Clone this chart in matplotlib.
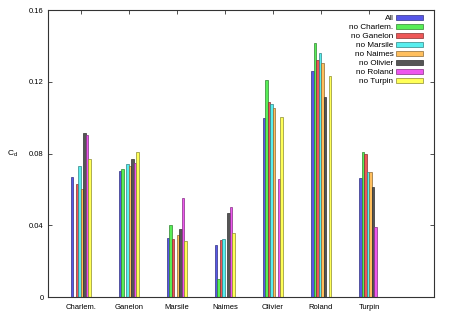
import matplotlib
matplotlib.use("Agg")
import matplotlib.pyplot as plt
import numpy as np
from matplotlib.colors import to_rgb

plt.rcParams["font.family"] = ["Liberation Sans", "DejaVu Sans"]

CHARACTERS = ["Charlem.", "Ganelon", "Marsile", "Naimes", "Olivier", "Roland", "Turpin"]
SERIES = ["All", "no Charlem.", "no Ganelon", "no Marsile", "no Naimes",
          "no Olivier", "no Roland", "no Turpin"]
NAN = float("nan")

# one list per series, values per character (nan = character removed)
all_chars = [0.0667, 0.0702, 0.0327, 0.0292, 0.0998, 0.1260, 0.0662]
no_charlem = [NAN, 0.0713, 0.0401, 0.0099, 0.1210, 0.1414, 0.0810]
no_ganelon = [0.0630, NAN, 0.0322, 0.0319, 0.1085, 0.1321, 0.0795]
no_marsile = [0.0730, 0.0740, NAN, 0.0325, 0.1074, 0.1358, 0.0698]
no_naimes = [0.0600, 0.0728, 0.0346, NAN, 0.1055, 0.1302, 0.0698]
no_olivier = [0.0912, 0.0767, 0.0381, 0.0468, NAN, 0.1113, 0.0613]
no_roland = [0.0903, 0.0745, 0.0550, 0.0500, 0.0656, NAN, 0.0388]
no_turpin = [0.0767, 0.0806, 0.0314, 0.0355, 0.1002, 0.1230, NAN]

VALUES = [all_chars, no_charlem, no_ganelon, no_marsile, no_naimes,
          no_olivier, no_roland, no_turpin]
COLORS = ["#5757e8", "#57ee57", "#ee5757", "#57eeee", "#ffbf5e",
          "#555555", "#ee57ee", "#ffff57"]


def darker(c, f=0.55):
    r, g, b = to_rgb(c)
    return (r * f, g * f, b * f)


fig = plt.figure(figsize=(4.5, 3.15), dpi=100)
ax = fig.add_axes([0.1067, 0.0571, 0.8578, 0.911])

x = np.arange(len(CHARACTERS))
w = 0.052
for i, (name, vals, col) in enumerate(zip(SERIES, VALUES, COLORS)):
    off = (i - 3.5) * w
    ax.bar(x + off, vals, w, color=col, edgecolor=darker(col), linewidth=0.5,
           label=name)

ax.set_xlim(-0.68, 7.35)
ax.set_ylim(0, 0.16)
ax.set_yticks([0, 0.04, 0.08, 0.12, 0.16])
ax.set_yticklabels(["0", "0.04", "0.08", "0.12", "0.16"])
ax.set_xticks(x)
ax.set_xticklabels(CHARACTERS)
ax.tick_params(direction="in", length=3, width=0.6, labelsize=5.5,
               top=True, right=True, colors="#333333", labelcolor="black", pad=3)
ax.tick_params(axis="x", length=0, pad=5, labelsize=5.5)
for s in ax.spines.values():
    s.set_linewidth(0.8)
    s.set_color("#333333")
# mirrored top ticks only
ax2 = ax.secondary_xaxis("top")
ax2.set_xticks(x)
ax2.set_xticklabels([])
ax2.tick_params(direction="in", length=3, width=0.6, colors="#333333")
ax2.spines["top"].set_visible(False)

ax.set_ylabel("C$_\\mathregular{d}$", fontsize=6, rotation=0, labelpad=12, va="center")

leg = ax.legend(loc="upper right", bbox_to_anchor=(0.985, 1.0), frameon=False,
                fontsize=5.9, markerfirst=False,
                handlelength=3.3, handleheight=0.55, labelspacing=0.2,
                borderaxespad=0.2, handletextpad=0.35)
for t in leg.get_texts():
    t.set_ha("right")

fig.savefig("out.png", dpi=100)
